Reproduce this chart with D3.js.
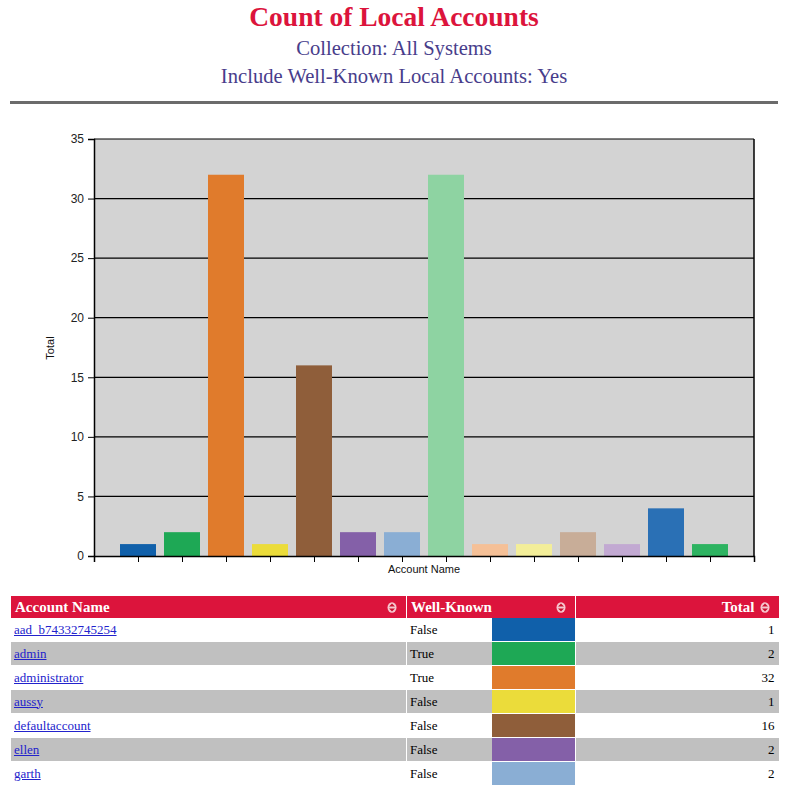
<!DOCTYPE html>
<html><head><meta charset="utf-8">
<script src="https://cdn.jsdelivr.net/npm/d3@7"></script>
<style>
body{margin:0;background:#fff;width:789px;height:786px;overflow:hidden;position:relative;}
#tbl{position:absolute;left:10px;top:596px;width:768px;border-collapse:collapse;font-family:"Liberation Serif","Times New Roman",serif;font-size:13px;table-layout:fixed;}
#tbl th{background:#dc143c;color:#fff;font-weight:bold;font-size:15px;height:22px;padding:0 4px;border-left:1px solid #fff;position:relative;}
#tbl td{height:23px;padding:0 3px;border-bottom:1px solid #fff;border-left:1px solid #fff;}
#tbl tr.odd td{background:#fff;}
#tbl tr.even td{background:#c0c0c0;}
#tbl a{color:#2222cc;text-decoration:underline;}
.ic{position:absolute;top:6px;}
</style></head>
<body>
<svg id="chart" width="789" height="592" style="position:absolute;left:0;top:0"></svg>
<table id="tbl"><colgroup><col style="width:396px"><col style="width:85px"><col style="width:84px"><col style="width:203px"></colgroup><thead></thead><tbody></tbody></table>
<script>
const accounts = ["aad_b74332745254","admin","administrator","aussy","defaultaccount","ellen","garth","guest","john","kevin","localadmin","mike","wdagutilityaccount","user1"];
const totals = [1,2,32,1,16,2,2,32,1,1,2,1,4,1];
const wellKnown = ["False","True","True","False","False","False","False","True","False","False","False","False","True","False"];
const colors = ["#1060aa","#1ea855","#e07b2c","#ebdc3a","#8f5e3a","#8460a8","#8aaed4","#8ed3a2","#f5c097","#f3ee99","#c8ad98","#c2a9d2","#2a70b5","#2db361"];
const yTicks = [0,5,10,15,20,25,30,35];
const visibleRows = 7;

const svg = d3.select("#chart");
svg.append("text").attr("x",394).attr("y",26).attr("text-anchor","middle")
  .attr("font-family","Liberation Serif, Times New Roman, serif").attr("font-weight","bold")
  .attr("font-size",27.5).attr("fill","#dc143c").text("Count of Local Accounts");
svg.append("text").attr("x",394).attr("y",55).attr("text-anchor","middle")
  .attr("font-family","Liberation Serif, Times New Roman, serif")
  .attr("font-size",20.6).attr("fill","#483d8b").text("Collection: All Systems");
svg.append("text").attr("x",394).attr("y",83).attr("text-anchor","middle")
  .attr("font-family","Liberation Serif, Times New Roman, serif")
  .attr("font-size",20.6).attr("fill","#483d8b").text("Include Well-Known Local Accounts: Yes");
svg.append("rect").attr("x",10).attr("y",101).attr("width",768).attr("height",3).attr("fill","#6b6b6b");

const L=94,R=754,T=139,B=556;
const x = d3.scaleLinear().domain([0,accounts.length+1]).range([L,R]);
const y = d3.scaleLinear().domain([0,35]).range([B,T]);
svg.append("rect").attr("x",L).attr("y",T).attr("width",R-L).attr("height",B-T).attr("fill","#d3d3d3");
svg.append("g").selectAll("line").data(yTicks.filter(v=>v>0)).join("line")
  .attr("x1",L).attr("x2",R).attr("y1",d=>y(d)).attr("y2",d=>y(d)).attr("stroke","#000").attr("stroke-width",1.2);
const bw=36;
svg.append("g").selectAll("rect").data(accounts).join("rect")
  .attr("x",(d,i)=>x(i+1)-bw/2).attr("width",bw)
  .attr("y",(d,i)=>y(totals[i])).attr("height",(d,i)=>B-y(totals[i]))
  .attr("fill",(d,i)=>colors[i]);
svg.append("line").attr("x1",R).attr("x2",R).attr("y1",T).attr("y2",B).attr("stroke","#000").attr("stroke-width",1.5);
const ya = svg.append("g").attr("transform",`translate(${L},0)`)
  .call(d3.axisLeft(y).tickValues(yTicks).tickSize(6).tickPadding(4));
ya.selectAll("text").attr("font-family","Liberation Sans, Arial, sans-serif").attr("font-size",12).attr("fill","#222");
ya.select(".domain").attr("stroke-width",1.5);
const xa = svg.append("g").attr("transform",`translate(0,${B})`)
  .call(d3.axisBottom(x).tickValues(d3.range(0,accounts.length+2)).tickSize(6).tickFormat(""));
xa.select(".domain").attr("stroke-width",1.5);
svg.append("text").attr("x",424).attr("y",573).attr("text-anchor","middle")
  .attr("font-family","Liberation Sans, Arial, sans-serif").attr("font-size",11).attr("fill","#111").text("Account Name");
svg.append("text").attr("transform","translate(54,348) rotate(-90)").attr("text-anchor","middle")
  .attr("font-family","Liberation Sans, Arial, sans-serif").attr("font-size",11).attr("fill","#111").text("Total");

const icon = '<svg class="ic" width="10" height="11" viewBox="0 0 10 11"><ellipse cx="5" cy="5.5" rx="4.5" ry="5.2" fill="#f6c7cf"/><path d="M5 1.5 L8 4.6 L2 4.6Z M5 9.5 L8 6.4 L2 6.4Z" fill="#c8102e"/></svg>';
const thead = d3.select("#tbl thead").append("tr");
thead.append("th").style("text-align","left").html('Account Name<span style="position:absolute;right:19px;top:0">'+icon+'</span>');
thead.append("th").attr("colspan",2).style("text-align","left").html('Well-Known<span style="position:absolute;right:19px;top:0">'+icon+'</span>');
thead.append("th").style("text-align","right").style("padding-right","24px").html('Total<span style="position:absolute;right:19px;top:0">'+icon+'</span>');
const rows = d3.select("#tbl tbody").selectAll("tr").data(accounts.slice(0,visibleRows)).join("tr").attr("class",(d,i)=>i%2?"even":"odd");
rows.append("td").html(d=>'<a href="#">'+d+'</a>');
rows.append("td").text((d,i)=>wellKnown[i]);
rows.append("td").style("padding","0").style("background",(d,i)=>colors[i]).style("border-left","none");
rows.append("td").style("text-align","right").style("padding-right","4px").text((d,i)=>totals[i]);
</script>
</body></html>
